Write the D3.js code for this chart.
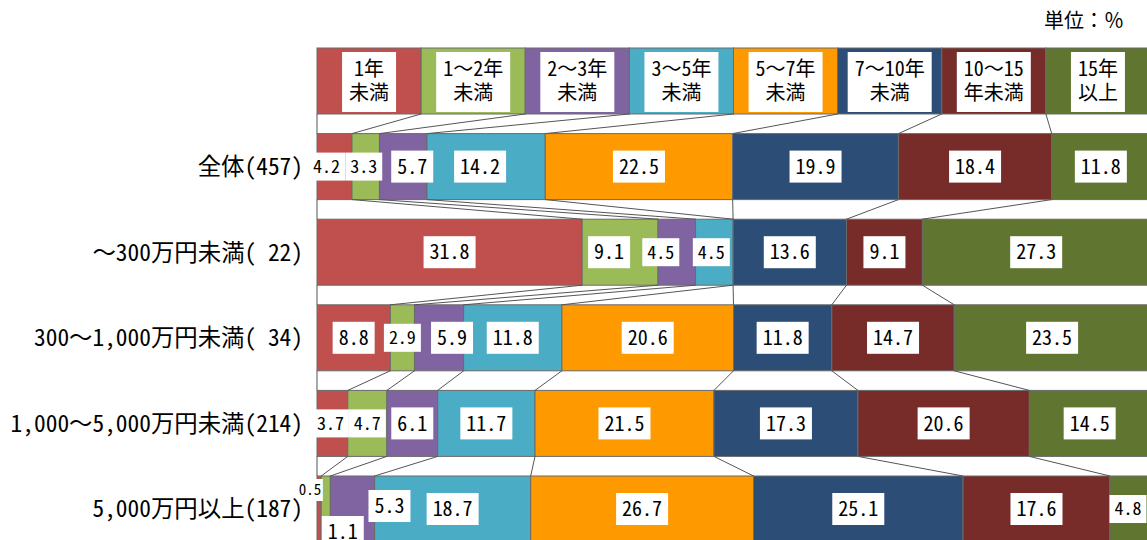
<!DOCTYPE html>
<html><head><meta charset="utf-8">
<script src="https://cdn.jsdelivr.net/npm/d3@7"></script>
<style>
body{margin:0;background:#fff;}
svg{display:block;}
text{font-family:"Noto Sans Mono CJK JP","Noto Sans CJK JP",monospace;fill:#000;}
</style>
</head><body>
<svg id="c" width="1147" height="540"></svg>
<script>
// ---- data ----
const seriesKeys = ["1年未満","1～2年未満","2～3年未満","3～5年未満","5～7年未満","7～10年未満","10～15年未満","15年以上"];
const headerLines = [["1年","未満"],["1～2年","未満"],["2～3年","未満"],["3～5年","未満"],["5～7年","未満"],["7～10年","未満"],["10～15","年未満"],["15年","以上"]];
const rowLabels = ["全体(457)","～300万円未満( 22)","300～1,000万円未満( 34)","1,000～5,000万円未満(214)","5,000万円以上(187)"];
const s1 = [4.2, 31.8, 8.8, 3.7, 0.5];
const s2 = [3.3, 9.1, 2.9, 4.7, 1.1];
const s3 = [5.7, 4.5, 5.9, 6.1, 5.3];
const s4 = [14.2, 4.5, 11.8, 11.7, 18.7];
const s5 = [22.5, 0.0, 20.6, 21.5, 26.7];
const s6 = [19.9, 13.6, 11.8, 17.3, 25.1];
const s7 = [18.4, 9.1, 14.7, 20.6, 17.6];
const s8 = [11.8, 27.3, 23.5, 14.5, 4.8];
const unitLabel = "単位：％";

// ---- styles ----
const colors = ["#C0504D","#9BBB59","#8064A2","#4BACC6","#FF9900","#2C4D75","#772C2A","#5F7530"];
// label tweaks keyed "row-series" (style only)
const labelTweak = {
  "0-0":{dx:-8,small:true}, "0-1":{dx:-2,small:true}, "0-2":{dx:9}, "0-3":{dx:-6},
  "1-1":{dx:-11}, "1-2":{dx:-16,small:true}, "1-3":{dx:-3,small:true},
  "2-1":{small:true}, "2-2":{dx:13},
  "3-0":{dx:-2,small:true}, "3-1":{small:true},
  "4-0":{dx:-9,dy:-19,tiny:true}, "4-1":{dx:17,dy:23}, "4-2":{dx:37,dy:-3}, "4-7":{dx:-2,small:true}
};

const seriesVals = [s1,s2,s3,s4,s5,s6,s7,s8];
const table = [{row:"__header"}].concat(rowLabels.map((r,i)=>{const o={row:r};seriesKeys.forEach((k,j)=>o[k]=seriesVals[j][i]);return o;}));
seriesKeys.forEach(k=>table[0][k]=1);

const stack = d3.stack().keys(seriesKeys).offset(d3.stackOffsetExpand)(table);

const svg = d3.select("#c");
const x = d3.scaleLinear().domain([0,1]).range([317,1150]);
const y = d3.scaleBand().domain(table.map(d=>d.row)).range([48,542]).paddingInner(0.229);
const bw = y.bandwidth();
const strokeC = "#6a6a6a";

// bars
stack.forEach((ser,j)=>{
  svg.append("g").selectAll("rect").data(ser).join("rect")
    .attr("x",d=>x(d[0])).attr("y",d=>y(d.data.row))
    .attr("width",d=>Math.max(0,x(d[1])-x(d[0]))).attr("height",bw)
    .attr("fill",colors[j]).attr("stroke",strokeC).attr("stroke-width",1);
});

// connector lines (series lines)
const boundary = (k,i)=> k===0 ? 0 : stack[k-1][i][1];
const conn = [];
for(let i=0;i<table.length-1;i++){
  for(let k=0;k<=seriesKeys.length;k++){
    conn.push({x1:x(boundary(k,i)),y1:y(table[i].row)+bw,x2:x(boundary(k,i+1)),y2:y(table[i+1].row)});
  }
}
svg.append("g").selectAll("line").data(conn).join("line")
  .attr("x1",d=>d.x1).attr("y1",d=>d.y1).attr("x2",d=>d.x2).attr("y2",d=>d.y2)
  .attr("stroke","#555").attr("stroke-width",1);

// header boxes
const hy = y("__header");
const hc = hy + bw/2;
headerLines.forEach((lines,j)=>{
  const d = stack[j][0];
  const cx = (x(d[0])+x(d[1]))/2;
  const g = svg.append("g");
  const r = g.append("rect").attr("fill","#fff");
  const t = g.append("text").attr("text-anchor","middle").attr("font-size",20);
  const a = t.append("tspan").attr("x",cx).attr("y",hc-4.5).text(lines[0]);
  const b = t.append("tspan").attr("x",cx).attr("y",hc+19.5).text(lines[1]);
  const w = Math.max(a.node().getComputedTextLength(),b.node().getComputedTextLength())+14;
  r.attr("x",cx-w/2).attr("y",hy+4).attr("width",w).attr("height",bw-6);
});

// value labels
for(let i=1;i<table.length;i++){
  stack.forEach((ser,j)=>{
    const d = ser[i];
    const v = seriesVals[j][i-1];
    if(!(v>0)) return;
    const tw = labelTweak[(i-1)+"-"+j] || {};
    const cx = (x(d[0])+x(d[1]))/2 + (tw.dx||0);
    const cy = y(table[i].row)+bw/2 + (tw.dy||0);
    const fs = tw.tiny?15:(tw.small?18:20);
    const bh = tw.tiny?22:(tw.small?28:32);
    const pad = tw.tiny?3:(tw.small?10:12);
    const g = svg.append("g");
    const r = g.append("rect").attr("fill","#fff");
    const t = g.append("text").attr("x",cx).attr("y",cy).attr("dy","0.36em")
      .attr("text-anchor","middle").attr("font-size",fs).text(v.toFixed(1));
    const w = t.node().getComputedTextLength()+pad;
    r.attr("x",cx-w/2).attr("y",cy-bh/2).attr("width",w).attr("height",bh);
  });
}

// row labels
svg.append("g").selectAll("text").data(rowLabels).join("text")
  .attr("x",303).attr("y",d=>y(d)+bw/2).attr("dy","0.36em")
  .attr("text-anchor","end").attr("font-size",23.4).text(d=>d);

// unit label
svg.append("text").attr("x",1124).attr("y",28).attr("text-anchor","end").attr("font-size",20).text(unitLabel);
</script>
</body></html>
